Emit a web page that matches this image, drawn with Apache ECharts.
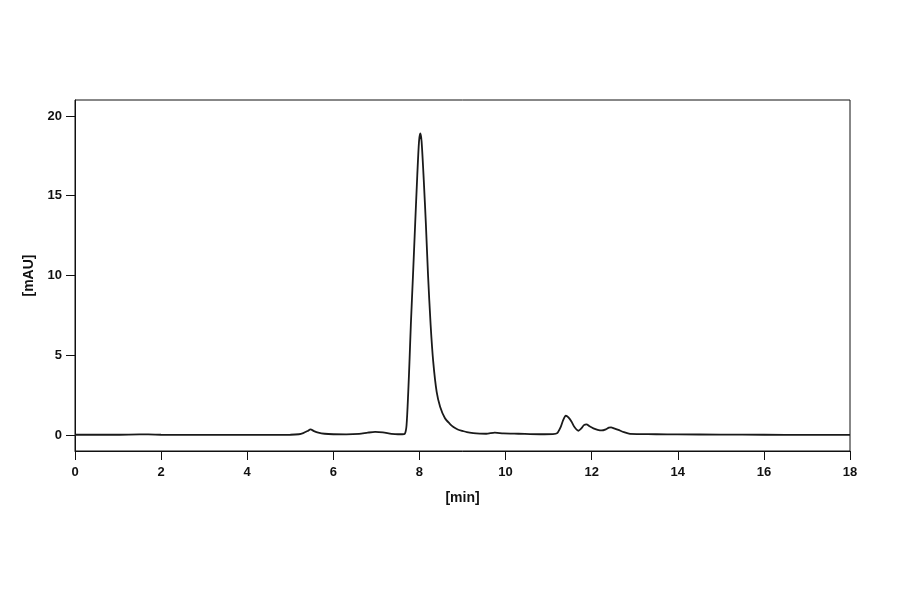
<!DOCTYPE html>
<html>
<head>
<meta charset="utf-8">
<script src="https://cdn.jsdelivr.net/npm/echarts@6/dist/echarts.min.js"></script>
<style>html,body{margin:0;padding:0;background:#fff}#c{width:900px;height:594px}</style>
</head>
<body>
<div id="c"></div>
<script>
const times = [0, 1, 1.5, 1.7, 2, 3, 4, 5, 5.2, 5.3, 5.4, 5.47, 5.55, 5.65, 5.8, 6.0, 6.3, 6.6, 6.8, 6.97, 7.15, 7.35, 7.5, 7.6,
  7.66, 7.70, 7.74, 7.77, 7.80, 7.85, 7.90, 7.95, 7.99, 8.02, 8.05, 8.10, 8.15, 8.20, 8.26, 8.32, 8.40, 8.48, 8.59, 8.70, 8.79, 8.89, 9.00, 9.10, 9.25, 9.40,
  9.55, 9.75, 9.95, 10.3, 10.8, 11.1, 11.2, 11.28, 11.34, 11.40, 11.46, 11.53, 11.60, 11.69, 11.76, 11.82, 11.88, 11.95, 12.04, 12.14, 12.23, 12.33, 12.40, 12.45, 12.52, 12.62, 12.75, 12.89,
  13.1, 13.5, 14, 15, 16, 17, 18];
const signal = [0.02, 0.02, 0.04, 0.04, 0.02, 0.01, 0.01, 0.02, 0.05, 0.12, 0.25, 0.36, 0.25, 0.15, 0.08, 0.05, 0.04, 0.07, 0.15, 0.2, 0.17, 0.08, 0.05, 0.05,
  0.08, 0.6, 2.7, 4.7, 6.9, 10.0, 13.2, 16.3, 18.4, 18.9, 18.4, 16.0, 13.2, 10.0, 6.9, 4.6, 2.7, 1.78, 1.07, 0.72, 0.50, 0.35, 0.26, 0.18, 0.12, 0.09,
  0.08, 0.15, 0.1, 0.08, 0.05, 0.06, 0.12, 0.5, 0.95, 1.21, 1.1, 0.85, 0.5, 0.27, 0.42, 0.62, 0.67, 0.55, 0.42, 0.33, 0.29, 0.36, 0.46, 0.48, 0.42, 0.32, 0.18, 0.07,
  0.06, 0.05, 0.04, 0.03, 0.02, 0.01, 0.01];
const yTicks = [0, 5, 10, 15, 20];
const xTicks = [0, 2, 4, 6, 8, 10, 12, 14, 16, 18];

const chart = echarts.init(document.getElementById('c'), null, {renderer: 'canvas'});
const font = {fontFamily: 'Liberation Sans, Arial, sans-serif', fontWeight: 'bold', fontSize: 13, color: '#111'};
const nameFont = Object.assign({}, font, {fontSize: 14});
chart.setOption({
  animation: false,
  backgroundColor: '#fff',
  grid: {left: 75, right: 50, top: 100, bottom: 143, show: true, borderColor: '#111', borderWidth: 1},
  xAxis: {
    type: 'value', min: 0, max: 18, interval: 2,
    name: '[min]', nameLocation: 'middle', nameGap: 40,
    nameTextStyle: nameFont,
    axisLine: {show: true, onZero: false, lineStyle: {color: '#111', width: 1}},
    axisTick: {show: true, inside: false, length: 9, lineStyle: {color: '#111'}, customValues: xTicks},
    axisLabel: Object.assign({margin: 15, customValues: xTicks}, font),
    splitLine: {show: false}
  },
  yAxis: {
    type: 'value', min: -1, max: 21,
    name: '[mAU]', nameLocation: 'middle', nameGap: 37, nameRotate: 90,
    nameTextStyle: nameFont,
    axisLine: {show: true, lineStyle: {color: '#111', width: 1}},
    axisTick: {show: true, inside: false, length: 9, lineStyle: {color: '#111'}, customValues: yTicks},
    axisLabel: Object.assign({margin: 13, customValues: yTicks}, font),
    splitLine: {show: false}
  },
  series: [{
    type: 'line',
    data: times.map((t, i) => [t, signal[i]]),
    showSymbol: false,
    smooth: 0.25,
    lineStyle: {color: '#1a1a1a', width: 1.8},
    clip: true
  }]
});
</script>
</body>
</html>
